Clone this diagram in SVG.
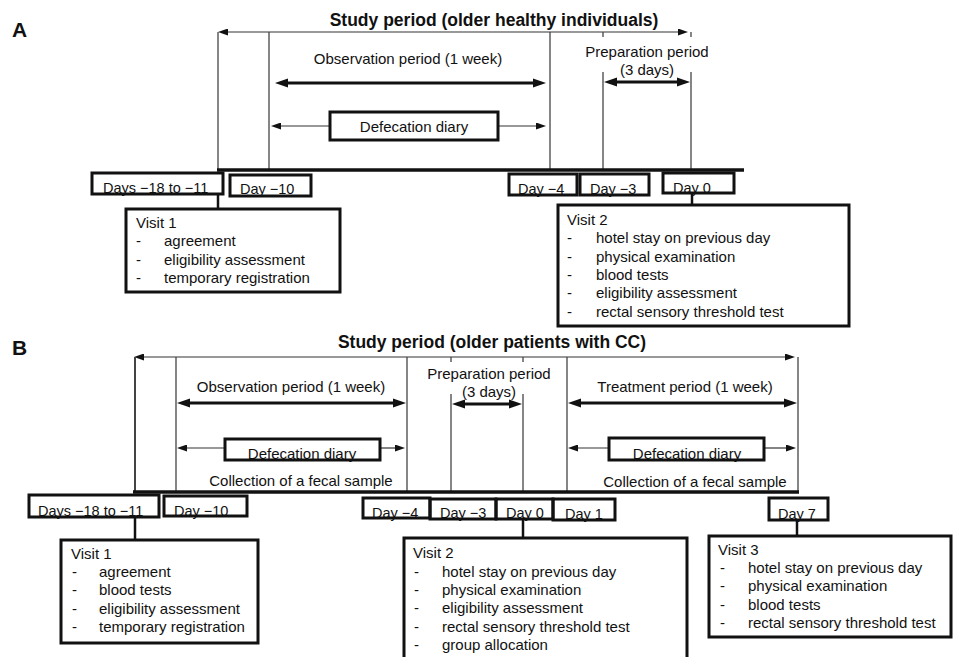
<svg xmlns="http://www.w3.org/2000/svg" width="954" height="657" viewBox="0 0 954 657">
<defs>
<style>
.t{font-family:"Liberation Sans",Arial,sans-serif;font-size:15px;fill:#111}
.d{font-family:"Liberation Sans",Arial,sans-serif;font-size:14.5px;fill:#111}
.c{text-anchor:middle}
.h{font-family:"Liberation Sans",Arial,sans-serif;font-size:17.5px;font-weight:bold;fill:#111;text-anchor:middle}
.lab{font-family:"Liberation Sans",Arial,sans-serif;font-size:21px;font-weight:bold;fill:#111}
.box{fill:#fff;stroke:#111;stroke-width:3}
.vl{stroke:#444;stroke-width:1.3;fill:none}
.thin{stroke:#333;stroke-width:1.2;fill:none}
.thick{stroke:#111;stroke-width:3;fill:none}
.base{stroke:#111;stroke-width:3.5;fill:none}
.con{stroke:#111;stroke-width:2.5;fill:none}
</style>
<marker id="ah" markerUnits="userSpaceOnUse" markerWidth="10" markerHeight="7" refX="2" refY="3.5" orient="auto-start-reverse"><path d="M0,0 L10,3.5 L0,7 z" fill="#111"/></marker>
<marker id="ahb" markerUnits="userSpaceOnUse" markerWidth="13" markerHeight="10" refX="3" refY="5" orient="auto-start-reverse"><path d="M0,0.5 L13,5 L0,9.5 z" fill="#111"/></marker>
</defs>
<rect width="954" height="657" fill="#fff"/>

<!-- Panel A -->
<text class="lab" x="12" y="37">A</text>
<text class="h" x="494" y="26">Study period (older healthy individuals)</text>

<g id="connectorsA">
<line class="thin" x1="226" y1="32" x2="680" y2="32" marker-start="url(#ah)" marker-end="url(#ah)"/>
<line class="vl" x1="218" y1="32" x2="218" y2="170"/>
<line class="vl" x1="269" y1="32" x2="269" y2="170"/>
<line class="vl" x1="550" y1="32" x2="550" y2="170"/>
<line class="vl" x1="603" y1="32" x2="603" y2="37"/>
<line class="vl" x1="603" y1="72" x2="603" y2="170"/>
<line class="vl" x1="691" y1="32" x2="691" y2="37"/>
<line class="vl" x1="691" y1="72" x2="691" y2="170"/>
<line class="thick" x1="285" y1="83" x2="536" y2="83" marker-start="url(#ahb)" marker-end="url(#ahb)"/>
<line class="thick" x1="614" y1="82" x2="680" y2="82" marker-start="url(#ahb)" marker-end="url(#ahb)"/>
<line class="thin" x1="330" y1="126" x2="279" y2="126" marker-end="url(#ah)"/>
<line class="thin" x1="498" y1="126" x2="538" y2="126" marker-end="url(#ah)"/>
<line class="base" x1="217" y1="170" x2="744" y2="170"/>
<line class="con" x1="218" y1="194" x2="218" y2="209"/>
<line class="con" x1="692" y1="193" x2="692" y2="205"/>
</g>

<text class="t c" x="408" y="64">Observation period (1 week)</text>
<text class="t c" x="647" y="57">Preparation period</text>
<text class="t c" x="647" y="75">(3 days)</text>

<g id="diaryA">
<rect class="box" x="330" y="112" width="168" height="28"/>
<text class="t c" x="414" y="132">Defecation diary</text>
</g>

<g id="dayA1"><text class="d" x="103" y="193">Days −18 to −11</text><rect class="box" x="92" y="173" width="131" height="21" fill="none" style="fill:none"/></g>
<g id="dayA2"><text class="d" x="240" y="194">Day −10</text><rect class="box" x="230" y="175" width="81" height="21" style="fill:none"/></g>
<g id="dayA3"><text class="d" x="518" y="194">Day −4</text><rect class="box" x="509" y="174" width="68" height="21" style="fill:none"/></g>
<g id="dayA4"><text class="d" x="590" y="194">Day −3</text><rect class="box" x="580" y="174" width="69" height="21" style="fill:none"/></g>
<g id="dayA5"><text class="d" x="673" y="193">Day 0</text><rect class="box" x="663" y="173" width="71" height="20" style="fill:none"/></g>

<g id="visitA1">
<rect class="box" x="126" y="209" width="214" height="83"/>
<text class="t" x="136" y="228">Visit 1</text>
<text class="t" x="136" y="246">-</text><text class="t" x="164" y="246">agreement</text>
<text class="t" x="136" y="264.5">-</text><text class="t" x="164" y="264.5">eligibility assessment</text>
<text class="t" x="136" y="283">-</text><text class="t" x="164" y="283">temporary registration</text>
</g>

<g id="visitA2">
<rect class="box" x="558" y="205" width="291" height="121"/>
<text class="t" x="567" y="225">Visit 2</text>
<text class="t" x="567" y="243">-</text><text class="t" x="596" y="243">hotel stay on previous day</text>
<text class="t" x="567" y="261.5">-</text><text class="t" x="596" y="261.5">physical examination</text>
<text class="t" x="567" y="280">-</text><text class="t" x="596" y="280">blood tests</text>
<text class="t" x="567" y="298">-</text><text class="t" x="596" y="298">eligibility assessment</text>
<text class="t" x="567" y="316.5">-</text><text class="t" x="596" y="316.5">rectal sensory threshold test</text>
</g>

<!-- Panel B -->
<text class="lab" x="12" y="355">B</text>
<text class="h" x="492" y="348">Study period (older patients with CC)</text>

<g id="connectorsB">
<line class="thin" x1="142" y1="357" x2="787" y2="357" marker-start="url(#ah)" marker-end="url(#ah)"/>
<line class="vl" x1="135" y1="357" x2="135" y2="492" style="stroke-width:2"/>
<line class="vl" x1="176" y1="357" x2="176" y2="492"/>
<line class="vl" x1="407" y1="357" x2="407" y2="492"/>
<line class="vl" x1="451" y1="357" x2="451" y2="362"/>
<line class="vl" x1="451" y1="394" x2="451" y2="492"/>
<line class="vl" x1="523" y1="357" x2="523" y2="362"/>
<line class="vl" x1="523" y1="394" x2="523" y2="492"/>
<line class="vl" x1="567" y1="357" x2="567" y2="492"/>
<line class="vl" x1="798" y1="357" x2="798" y2="492"/>
<line class="thick" x1="187" y1="403" x2="396" y2="403" marker-start="url(#ahb)" marker-end="url(#ahb)"/>
<line class="thick" x1="462" y1="404" x2="512" y2="404" marker-start="url(#ahb)" marker-end="url(#ahb)"/>
<line class="thick" x1="578" y1="403" x2="787" y2="403" marker-start="url(#ahb)" marker-end="url(#ahb)"/>
<line class="thin" x1="225" y1="448" x2="185" y2="448" marker-end="url(#ah)"/>
<line class="thin" x1="380" y1="448" x2="397" y2="448" marker-end="url(#ah)"/>
<line class="thin" x1="609" y1="448" x2="576" y2="448" marker-end="url(#ah)"/>
<line class="thin" x1="764" y1="448" x2="788" y2="448" marker-end="url(#ah)"/>
<line class="base" x1="133" y1="492" x2="799" y2="492"/>
<line class="con" x1="135" y1="517" x2="135" y2="540"/>
<line class="con" x1="523" y1="519" x2="523" y2="538"/>
<line class="con" x1="797" y1="520" x2="797" y2="536"/>
</g>

<text class="t c" x="291" y="392">Observation period (1 week)</text>
<text class="t c" x="489" y="379">Preparation period</text>
<text class="t c" x="489" y="397">(3 days)</text>
<text class="t c" x="685" y="392">Treatment period (1 week)</text>
<text class="t c" x="301" y="486">Collection of a fecal sample</text>
<text class="t c" x="695" y="487">Collection of a fecal sample</text>

<g id="diaryB1">
<text class="t c" x="302" y="459">Defecation diary</text>
<rect class="box" x="225" y="439" width="155" height="21" style="fill:none"/>
</g>
<g id="diaryB2">
<text class="t c" x="687" y="459">Defecation diary</text>
<rect class="box" x="609" y="438" width="155" height="22" style="fill:none"/>
</g>

<g id="dayB1"><text class="d" x="38" y="516">Days −18 to −11</text><rect class="box" x="29" y="495" width="130" height="22" style="fill:none"/></g>
<g id="dayB2"><text class="d" x="174" y="516">Day −10</text><rect class="box" x="164" y="496" width="83" height="20" style="fill:none"/></g>
<g id="dayB3"><text class="d" x="372" y="518">Day −4</text><rect class="box" x="363" y="498" width="67" height="20" style="fill:none"/></g>
<g id="dayB4"><text class="d" x="440" y="518">Day −3</text><rect class="box" x="430" y="499" width="66" height="20" style="fill:none"/></g>
<g id="dayB5"><text class="d" x="506" y="518">Day 0</text><rect class="box" x="496" y="499" width="57" height="20" style="fill:none"/></g>
<g id="dayB6"><text class="d" x="565" y="519">Day 1</text><rect class="box" x="553" y="499" width="62" height="21" style="fill:none"/></g>
<g id="dayB7"><text class="d" x="778" y="519">Day 7</text><rect class="box" x="769" y="498" width="59" height="22" style="fill:none"/></g>

<g id="visitB1">
<rect class="box" x="61" y="540" width="197" height="103"/>
<text class="t" x="71" y="559">Visit 1</text>
<text class="t" x="72" y="577">-</text><text class="t" x="99" y="577">agreement</text>
<text class="t" x="72" y="595">-</text><text class="t" x="99" y="595">blood tests</text>
<text class="t" x="72" y="613.5">-</text><text class="t" x="99" y="613.5">eligibility assessment</text>
<text class="t" x="72" y="632">-</text><text class="t" x="99" y="632">temporary registration</text>
</g>

<g id="visitB2">
<rect class="box" x="404" y="538" width="283" height="135"/>
<text class="t" x="413" y="558">Visit 2</text>
<text class="t" x="414" y="576.5">-</text><text class="t" x="442" y="576.5">hotel stay on previous day</text>
<text class="t" x="414" y="595">-</text><text class="t" x="442" y="595">physical examination</text>
<text class="t" x="414" y="613">-</text><text class="t" x="442" y="613">eligibility assessment</text>
<text class="t" x="414" y="631.5">-</text><text class="t" x="442" y="631.5">rectal sensory threshold test</text>
<text class="t" x="414" y="650">-</text><text class="t" x="442" y="650">group allocation</text>
</g>

<g id="visitB3">
<rect class="box" x="709" y="536" width="242" height="101"/>
<text class="t" x="718" y="555">Visit 3</text>
<text class="t" x="720" y="573">-</text><text class="t" x="748" y="573">hotel stay on previous day</text>
<text class="t" x="720" y="591">-</text><text class="t" x="748" y="591">physical examination</text>
<text class="t" x="720" y="609.5">-</text><text class="t" x="748" y="609.5">blood tests</text>
<text class="t" x="720" y="627.5">-</text><text class="t" x="748" y="627.5">rectal sensory threshold test</text>
</g>
</svg>
